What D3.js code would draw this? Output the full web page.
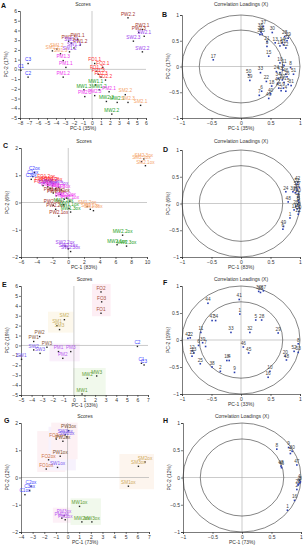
<!DOCTYPE html>
<html>
<head>
<meta charset="utf-8">
<script src="https://cdn.jsdelivr.net/npm/d3@7"></script>
<style>
body { margin: 0; background: #fff; }
svg { display: block; }
text { font-family: "Liberation Sans", Arial, sans-serif; }
</style>
</head>
<body>
<svg id="fig" width="304" height="550"></svg>
<script>
// ---- data: [label, PC-1, PC-2] ----
var scoresA = [
	["PW2.2",4.0,5.3],["PW2.1",5.6,4.1],["PW2.3",5.2,3.8],["SW2.1",5.8,3.4],["SW2.3",4.6,2.9],["SW2.2",5.6,1.8],
	["PW1.1",-1.6,3.1],["PW1.3",-2.6,2.9],["PW1.2",-1.3,2.5],["SW1.1",-2.3,2.7],["SW1.3",-2.0,2.2],["SW1.2",-2.5,1.8],
	["SM1.2",-3.9,2.1],["SM1.1",-4.4,1.9],["SM1.3",-3.5,1.6],
	["C3",-7.1,0.6],["C1",-7.9,-0.1],["C2",-7.1,-0.8],
	["PM1.3",-3.2,0.9],["PM1.1",-2.9,0.2],["PM1.2",-3.2,-0.8],
	["FO1.1",0.3,0.6],["FO2.1",1.2,0.2],["FO1.2",0.5,-0.2],["FO1.3",0.7,-0.5],["FO2.3",1.0,-0.8],["FO2.2",1.5,-1.1],
	["MW1.1",0.4,-1.6],["MW1.3",-0.9,-2.1],["MW1.2",0.8,-2.1],["MW2.3",1.6,-3.3],["MW2.1",2.8,-3.4],["MW2.2",2.2,-4.6],
	["PM2.1",1.9,-2.3],["PM2.3",0.3,-2.7],["PM2.2",-0.8,-2.8],
	["SM2.2",3.7,-2.6],["SM2.3",4.0,-3.4],["SM2.1",5.4,-3.7]
];
var scoresC = [
	["SM2.3ox",9.6,1.6],["SM2.2ox",9.3,1.5],["SM2.1ox",9.8,1.35],
	["C2ox",-4.3,1.1],["C1ox",-4.5,0.95],["C3ox",-4.7,0.85],
	["FO1.2ox",-2.8,0.82],["FO2.1ox",-3.1,0.72],["FO1.1ox",-2.3,0.76],["FO2.2ox",-1.9,0.7],["FO1.3ox",-2.6,0.66],["FO2.3ox",-3.2,0.62],
	["SW1.1ox",-2.6,0.58],["SW1.2ox",-2.0,0.62],["SW1.3ox",-1.2,0.56],
	["PM1.1ox",-2.3,0.52],["PM1.2ox",-1.6,0.5],["PM1.3ox",-0.9,0.46],
	["PW1.3ox",-1.9,0.35],["PW1.1ox",-1.5,0.25],["PW1.2ox",-1.0,0.3],
	["PM2.3ox",-0.5,0.12],["PM2.1ox",0.2,0.05],["PM2.2ox",-0.2,0.16],
	["PW2.3ox",-1.9,-0.1],["PW2.2ox",-1.6,-0.25],["PW2.1ox",-1.2,-0.5],
	["MW1.2ox",-0.6,-0.08],["MW1.1ox",0.1,-0.22],["MW1.3ox",0.3,-0.35],
	["SM1.2ox",2.4,-0.15],["SM1.1ox",2.8,-0.25],["SM1.3ox",3.2,-0.3],
	["SW2.2ox",-0.4,-1.6],["SW2.1ox",0.0,-1.7],["SW2.3ox",0.3,-1.8],
	["MW2.2ox",6.9,-1.2],["MW2.1ox",6.2,-1.55],["MW2.3ox",7.4,-1.6]
];
var scoresE = [
	["FO2",2.56,5.4],["FO3",2.62,4.4],["FO1",2.56,3.25],
	["SM2",-0.9,2.6],["SM1",-1.6,2.0],["SM3",-1.36,1.6],
	["PW2",-3.24,0.9],["PW1",-3.8,0.4],["PW3",-2.55,-0.18],
	["SW2",-3.8,-0.45],["SW3",-3.2,-0.8],["SW1",-4.95,-1.4],
	["PM1",-1.46,-0.62],["PM3",-0.3,-0.62],["PM2",-1.05,-1.3],
	["C2",6.0,-0.1],["C1",6.38,-1.8],["C3",6.63,-1.97],
	["MW3",2.15,-3.08],["MW2",1.27,-3.32],["MW1",0.77,-4.9]
];
var scoresG = [
	["PW3ox",0.09,1.72],["SW3ox",-0.2,1.57],["FO3ox",-0.97,1.41],["SW2ox",-0.06,1.49],["PW2ox",-0.4,1.33],
	["PW1ox",-0.63,0.78],["FO2ox",-1.63,0.65],["SW1ox",-0.86,0.37],["FO1ox",-1.83,0.31],
	["SM2ox",6.66,0.57],["SM3ox",6.09,0.41],["SM1ox",5.23,-0.32],
	["C2ox",-3.14,-0.32],["C3ox",-3.26,-0.48],["C1ox",-3.66,-0.63],
	["MW1ox",1.03,-1.06],["PM3ox",-0.29,-1.4],["PM1ox",-0.49,-1.49],["PM2ox",-0.2,-1.55],
	["MW3ox",2.09,-1.63],["MW2ox",1.23,-1.63]
];

var loadB = [
	["17",-0.47,0.13],["37",0.38,0.78],["36",0.33,0.72],["38",0.34,0.66],["32",0.32,0.62],["35",0.36,0.63],
	["30",0.53,0.66],["28",0.74,0.58],["29",0.8,0.55],["27",0.78,0.5],["13",0.58,0.46],["14",0.7,0.46],
	["16",0.72,0.42],["12",0.76,0.36],["19",0.66,0.4],["21",0.44,0.48],["3",0.44,0.39],["15",0.47,0.2],
	["10",0.66,0.07],["11",0.73,0.02],["8",0.84,-0.02],["51",0.89,-0.15],["50",0.13,-0.16],["39",0.15,-0.27],
	["33",0.33,-0.12],["24",0.6,-0.1],["43",0.66,-0.12],["1",0.71,-0.07],["46",0.76,-0.15],["26",0.78,-0.2],
	["22",0.43,-0.29],["34",0.63,-0.23],["20",0.7,-0.26],["18",0.52,-0.38],["44",0.62,-0.33],["41",0.73,-0.31],
	["31",0.85,-0.37],["45",0.64,-0.42],["6",0.35,-0.48],["7",0.31,-0.56],["49",0.47,-0.62],["40",0.5,-0.53],
	["2",0.68,-0.47],["4",0.76,-0.48],["9",0.72,-0.42],["5",0.8,-0.35]
];
var loadD = [
	["42",0.96,0.4],["52",0.95,0.36],["53",0.94,0.3],["7",0.99,0.3],["24",0.76,0.22],["33",0.88,0.22],
	["31",0.92,0.2],["14",0.95,0.25],["10",0.97,0.18],["12",0.96,0.12],["8",0.97,0.06],["5",0.98,0.02],
	["3",0.96,-0.02],["48",0.8,0.03],["20",0.93,-0.05],["9",0.99,-0.08],["11",0.9,-0.12],["15",0.95,-0.1],
	["30",0.98,-0.15],["22",0.97,-0.2],["1",0.83,-0.27],["49",0.72,-0.43],["6",0.71,-0.48]
];
var loadF = [
	["30",0.3,0.9],["37",0.38,0.91],["35",0.33,0.88],["41",-0.03,0.75],["44",-0.56,0.68],["1",-0.02,0.48],
	["5",0.25,0.37],["28",0.35,0.37],["47",-0.49,0.36],["34",-0.43,0.36],["11",-0.68,0.14],["33",-0.17,0.14],
	["32",0.15,0.14],["29",0.63,0.13],["42",-0.9,0.03],["22",-0.86,0.04],["6",-0.72,-0.1],["39",-0.65,-0.05],
	["7",-0.6,-0.12],["46",0.04,-0.13],["45",0.13,-0.24],["8",0.97,-0.07],["52",0.9,-0.21],["53",0.97,-0.23],
	["20",0.75,-0.3],["48",0.77,-0.37],["12",-0.83,-0.2],["13",-0.8,-0.24],["15",-0.83,-0.3],["25",-0.69,-0.44],
	["18",-0.24,-0.38],["4",-0.2,-0.38],["38",-0.49,-0.5],["2",-0.35,-0.58],["9",-0.11,-0.6],["10",0.49,-0.58],
	["16",0.46,-0.69]
];
var loadH = [
	["8",0.59,0.52],["9",0.79,0.55],["30",0.85,0.48],["5",0.82,0.44],["47",0.93,0.23],["48",0.66,0.21],
	["46",0.67,0.18],["4",0.97,-0.05],["3",0.99,-0.08],["7",0.98,-0.1],["6",0.96,-0.12],["22",0.95,-0.14],
	["2",0.93,-0.22],["16",0.89,-0.42],["1",0.77,-0.6]
];

var pctA = ["PC-1 (35%)", "PC-2 (17%)"],
	pctC = ["PC-1 (83%)", "PC-2 (6%)"],
	pctE = ["PC-1 (33%)", "PC-2 (19%)"],
	pctG = ["PC-1 (73%)", "PC-2 (12%)"];

var colorsAC = {PW:"#a3332c", SW:"#9a40ee", SM:"#f5a46a", C:"#3535ff", PM:"#ee33ee", FO:"#ff2b2b", MW:"#22a022"},
	colorsEG = {PW:"#86573a", SW:"#7a58f0", SM:"#c9b062", C:"#4444ff", PM:"#b85cf0", FO:"#a8503a", MW:"#5f9c35"},
	colorsG = {PW:"#7a5232", SW:"#7a58f0", SM:"#d0aa5a", C:"#4444ff", PM:"#b85cf0", FO:"#cf7446", MW:"#5f9c35"};

var shadeE = {FO:"#fdeef4", SM:"#fdf8ec", PM:"#faf0fb", MW:"#f1f9ec"},
	shadeG = {PW:"#fdf1f4", SW:"#f7f2fd", FO:"#fdf1f4", SM:"#fdf5ee", PM:"#fdf0f7", MW:"#f1f9ec"};

var svg = d3.select("#fig");

function group(name) {
	return name.replace(/[0-9].*$/, "");
}

function frame(o) {
	var x = d3.scaleLinear().domain(o.xd).range([o.left, o.right]),
		y = d3.scaleLinear().domain(o.yd).range([o.bottom, o.top]);
	var g = svg.append("g");

	// zero lines
	g.append("line").attr("x1", x(0)).attr("x2", x(0)).attr("y1", o.top).attr("y2", o.bottom)
		.attr("stroke", "#a8a8a8").attr("stroke-width", 0.6);
	g.append("line").attr("x1", o.left).attr("x2", o.right).attr("y1", y(0)).attr("y2", y(0))
		.attr("stroke", "#a8a8a8").attr("stroke-width", 0.6);

	var ax = g.append("g").attr("transform", "translate(0," + o.bottom + ")")
		.call(d3.axisBottom(x).tickValues(o.xt).tickSize(2).tickPadding(1).tickFormat(d3.format("")));
	var ay = g.append("g").attr("transform", "translate(" + o.left + ",0)")
		.call(d3.axisLeft(y).tickValues(o.yt).tickSize(2).tickPadding(1).tickFormat(d3.format("")));
	[ax, ay].forEach(function(a) {
		a.selectAll("path, line").attr("stroke", "#222").attr("stroke-width", 0.6);
		a.selectAll("text").attr("font-size", 5).attr("fill", "#333").attr("font-family", null);
	});

	g.append("text").attr("x", (o.left + o.right) / 2).attr("y", o.bottom + 12)
		.attr("text-anchor", "middle").attr("font-size", 5).attr("fill", "#333").text(o.labels[0]);
	g.append("text").attr("transform", "translate(" + (o.left - 12) + "," + ((o.top + o.bottom) / 2) + ") rotate(-90)")
		.attr("text-anchor", "middle").attr("font-size", 5).attr("fill", "#333").text(o.labels[1]);
	g.append("text").attr("x", (o.left + o.right) / 2).attr("y", o.titleY)
		.attr("text-anchor", "middle").attr("font-size", 5).attr("fill", "#333").text(o.title);
	g.append("text").attr("x", o.letter[0]).attr("y", o.letter[1])
		.attr("font-size", 7).attr("font-weight", "bold").attr("fill", "#111").text(o.id);

	return {g: g, x: x, y: y};
}

function scoresPlot(o) {
	var f = frame(o), x = f.x, y = f.y;
	if (o.shade) {
		var groups = d3.group(o.data, function(d) { return group(d[0]); });
		groups.forEach(function(rows, key) {
			if (!o.shade[key]) return;
			var ex = d3.extent(rows, function(d) { return d[1]; }),
				ey = d3.extent(rows, function(d) { return d[2]; });
			f.g.insert("rect", ":first-child")
				.attr("x", x(ex[0]) - 9).attr("y", y(ey[1]) - 8)
				.attr("width", x(ex[1]) - x(ex[0]) + 18).attr("height", y(ey[0]) - y(ey[1]) + 11)
				.attr("fill", o.shade[key]);
		});
	}
	var pts = f.g.append("g").selectAll("g").data(o.data).enter().append("g");
	pts.append("rect")
		.attr("x", function(d) { return x(d[1]) - 0.7; })
		.attr("y", function(d) { return y(d[2]) - 0.7; })
		.attr("width", 1.4).attr("height", 1.4).attr("fill", "#222");
	pts.append("text")
		.attr("x", function(d) { return x(d[1]); })
		.attr("y", function(d) { return y(d[2]) - 2.2; })
		.attr("text-anchor", "middle").attr("font-size", 4.7)
		.attr("fill", function(d) { return o.colors[group(d[0])]; })
		.text(function(d) { return d[0]; });
}

function loadingsPlot(o) {
	o.xd = [-1, 1]; o.yd = [-1, 1];
	o.xt = [-1, -0.5, 0, 0.5, 1]; o.yt = [-1, -0.5, 0, 0.5, 1];
	o.title = "Correlation Loadings (X)";
	var f = frame(o), x = f.x, y = f.y;
	[1, Math.SQRT1_2].forEach(function(r) {
		f.g.append("ellipse").attr("cx", x(0)).attr("cy", y(0))
			.attr("rx", x(r) - x(0)).attr("ry", y(0) - y(r))
			.attr("fill", "none").attr("stroke", "#333").attr("stroke-width", 0.6);
	});
	var pts = f.g.append("g").selectAll("g").data(o.data).enter().append("g");
	pts.append("rect")
		.attr("x", function(d) { return x(d[1]) - 0.8; })
		.attr("y", function(d) { return y(d[2]) - 0.8; })
		.attr("width", 1.6).attr("height", 1.6).attr("fill", "#2b3fb0");
	pts.append("text")
		.attr("x", function(d) { return x(d[1]); })
		.attr("y", function(d) { return y(d[2]) - 2.2; })
		.attr("text-anchor", "middle").attr("font-size", 4.7).attr("fill", "#444")
		.text(function(d) { return d[0]; });
}

scoresPlot({id:"A", data:scoresA, colors:colorsAC, labels:pctA, title:"Scores",
	left:20, right:146, top:11, bottom:118, titleY:6, letter:[1,8],
	xd:[-8,6], yd:[-5,6], xt:d3.range(-8,7), yt:d3.range(-5,7)});
loadingsPlot({id:"B", data:loadB, labels:pctA, left:182, right:300, top:15, bottom:118, titleY:6, letter:[162,17]});

scoresPlot({id:"C", data:scoresC, colors:colorsAC, labels:pctC, title:"Scores",
	left:21, right:147, top:148, bottom:257, titleY:143, letter:[3,148],
	xd:[-6,10], yd:[-2,2], xt:d3.range(-6,11,2), yt:d3.range(-2,3)});
loadingsPlot({id:"D", data:loadD, labels:pctC, left:182, right:300, top:150, bottom:257, titleY:143, letter:[163,152]});

scoresPlot({id:"E", data:scoresE, colors:colorsEG, shade:shadeE, labels:pctE, title:"Scores",
	left:21, right:148, top:286, bottom:395, titleY:281, letter:[2,287],
	xd:[-5,7], yd:[-5,6], xt:d3.range(-5,8), yt:d3.range(-5,7)});
loadingsPlot({id:"F", data:loadF, labels:pctE, left:182, right:300, top:286, bottom:394, titleY:281, letter:[163,285]});

scoresPlot({id:"G", data:scoresG, colors:colorsG, shade:shadeG, labels:pctG, title:"Scores",
	left:21, right:149, top:423, bottom:532, titleY:418, letter:[4,423],
	xd:[-4,7], yd:[-2,2], xt:d3.range(-4,8), yt:d3.range(-2,3)});
loadingsPlot({id:"H", data:loadH, labels:pctG, left:183, right:301, top:423, bottom:532, titleY:418, letter:[163,423]});
</script>
</body>
</html>
